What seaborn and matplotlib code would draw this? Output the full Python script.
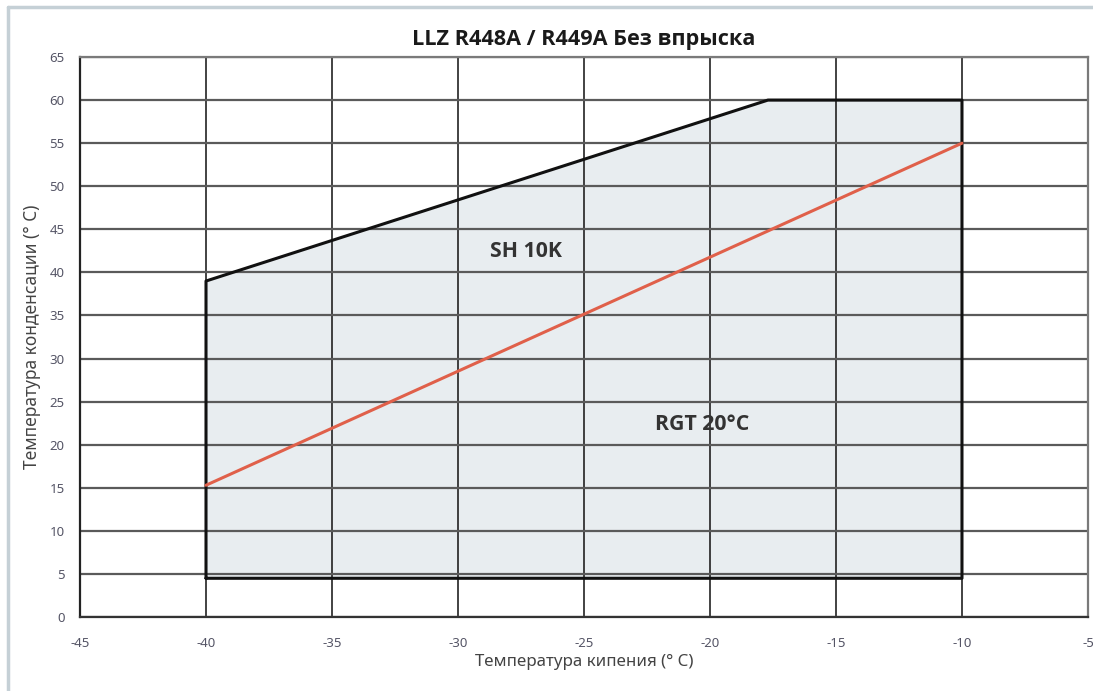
import numpy as np
import pandas as pd
import matplotlib
matplotlib.use("Agg")
import matplotlib.pyplot as plt
from matplotlib.lines import Line2D
import seaborn as sns

# envelope boundary (evaporating temp, condensing temp)
env_x = [-40, -40, -17.7, -10, -10, -40]
env_y = [4.5, 39, 60, 60, 4.5, 4.5]

# RGT 20°C line
rgt_x = [-40, -10]
rgt_y = [15.3, 55]

x_ticks = [-45, -40, -35, -30, -25, -20, -15, -10, -5]
y_ticks = [0, 5, 10, 15, 20, 25, 30, 35, 40, 45, 50, 55, 60, 65]

title = "LLZ R448A / R449A Без впрыска"
xlabel = "Температура кипения (° C)"
ylabel = "Температура конденсации (° C)"

sns.set_style("white")
plt.rcParams['font.family'] = ['Noto Sans', 'DejaVu Sans']
plt.rcParams['axes.unicode_minus'] = False
bold_font = dict(family=['Open Sans', 'DejaVu Sans'], fontweight="bold", fontstretch="normal")

fig = plt.figure(figsize=(10.93, 6.91), dpi=100)
ax = fig.add_axes([0.0732, 0.107, 0.9222, 0.8105])

env = pd.DataFrame({"x": env_x, "y": env_y})
rgt = pd.DataFrame({"x": rgt_x, "y": rgt_y})

ax.fill(env["x"], env["y"], color="#e8edf0", zorder=1)
for v in x_ticks:
    ax.axvline(v, color="#222222", lw=1.2, zorder=2)
for v in y_ticks:
    ax.axhline(v, color="#5a5a5a", lw=1.6, zorder=2)

sns.lineplot(data=env, x="x", y="y", sort=False, estimator=None,
             color="#111111", lw=2.2, ax=ax, zorder=4)
sns.lineplot(data=rgt, x="x", y="y", sort=False, estimator=None,
             color="#e0604a", lw=2.2, ax=ax, zorder=5)

ax.text(-27.3, 42.4, "SH 10K", fontsize=15.3, color="#333333",
        ha="center", va="center", zorder=6, **bold_font)
ax.text(-20.3, 22.3, "RGT 20°C", fontsize=15.3, color="#333333",
        ha="center", va="center", zorder=6, **bold_font)

ax.set_xlim(-45, -5)
ax.set_ylim(0, 65)
ax.set_xticks(x_ticks)
ax.set_yticks(y_ticks)
ax.tick_params(axis="both", direction="out", length=8, width=1.2,
               color="#222222", labelsize=9.5, labelcolor="#555566", pad=3)
ax.tick_params(axis="x", pad=6)
for s in ax.spines.values():
    s.set_color("#7a7a7a")
    s.set_linewidth(1.6)
ax.spines["left"].set_color("#222222")
ax.spines["bottom"].set_color("#333333")

ax.set_xlabel(xlabel, fontsize=12.2, color="#444444", labelpad=3)
ax.set_ylabel(ylabel, fontsize=12.5, color="#444444", labelpad=6)
ax.set_title(title, fontsize=15.6, color="#1a1a1a", pad=9, **bold_font)

# light outer frame
fig.add_artist(Line2D([8/1093, 8/1093], [0, 1 - 7/691], transform=fig.transFigure,
                      color="#c5d0d6", lw=2.5))
fig.add_artist(Line2D([8/1093, 1], [1 - 7/691, 1 - 7/691], transform=fig.transFigure,
                      color="#c5d0d6", lw=2.5))

fig.savefig("out.png", dpi=100)
